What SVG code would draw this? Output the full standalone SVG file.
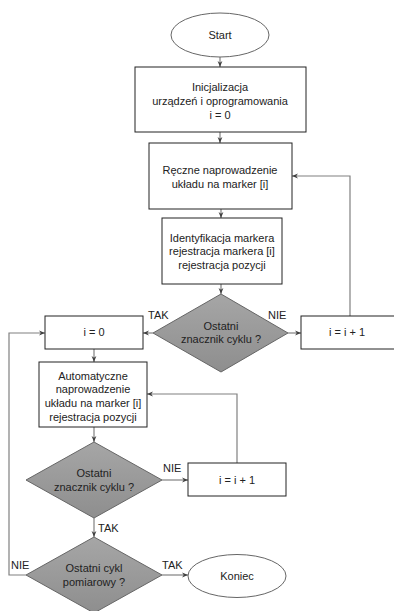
<svg xmlns="http://www.w3.org/2000/svg" width="394" height="611" viewBox="0 0 394 611">
<defs>
<marker id="arr" viewBox="0 0 10 10" refX="10" refY="5" markerWidth="6" markerHeight="6" orient="auto" markerUnits="userSpaceOnUse">
<path d="M0,1 L10,5 L0,9 L3,5 Z" fill="#404040"/>
</marker>
<linearGradient id="dg" x1="0" y1="0" x2="0" y2="1">
<stop offset="0" stop-color="#a6a6a6"/>
<stop offset="0.5" stop-color="#9a9a9a"/>
<stop offset="1" stop-color="#8e8e8e"/>
</linearGradient>
</defs>
<style>
text{font-family:"Liberation Sans",Arial,sans-serif;font-size:11px;fill:#222;text-anchor:middle}
.lbl{text-anchor:start}
.box{fill:#fff;stroke:#222;stroke-width:1}
.dia{fill:url(#dg);stroke:#666;stroke-width:1}
.ell{fill:#fff;stroke:#666;stroke-width:1}
.con{fill:none;stroke:#808080;stroke-width:1.2;marker-end:url(#arr)}
</style>
<rect width="394" height="611" fill="#fff"/>
<g id="connectors">
<path class="con" d="M220,57 V67"/>
<path class="con" d="M220,132 V143"/>
<path class="con" d="M221,209 V218"/>
<path class="con" d="M221,284 V294"/>
<path class="con" d="M153,333 H143"/>
<path class="con" d="M288,333 H301"/>
<path class="con" d="M350,316 V176 H292"/>
<path class="con" d="M94,349 V362"/>
<path class="con" d="M94,427 V442"/>
<path class="con" d="M162,480 H188"/>
<path class="con" d="M237,463 V394 H147"/>
<path class="con" d="M94,518 V537"/>
<path class="con" d="M162,575 H188"/>
<path class="con" d="M26,575 H9 V333 H45"/>
</g>
<g id="start"><ellipse class="ell" cx="220" cy="35" rx="49" ry="22"/><text x="220" y="39">Start</text></g>
<g id="init"><rect class="box" x="135" y="67" width="171" height="65"/><text x="220" y="91">Inicjalizacja</text><text x="220" y="105">urządzeń i oprogramowania</text><text x="220" y="119">i = 0</text></g>
<g id="manual"><rect class="box" x="149" y="143" width="143" height="66"/><text x="220" y="174">Ręczne naprowadzenie</text><text x="220" y="188">układu na marker [i]</text></g>
<g id="ident"><rect class="box" x="162" y="218" width="120" height="66"/><text x="222" y="242">Identyfikacja markera</text><text x="222" y="255">rejestracja markera [i]</text><text x="222" y="269">rejestracja pozycji</text></g>
<g id="dec1"><polygon class="dia" points="221,294 288,333 221,372 153,333"/><text x="221" y="330">Ostatni</text><text x="221" y="343">znacznik cyklu ?</text></g>
<g id="reset"><rect class="box" x="45" y="316" width="98" height="33"/><text x="94" y="336">i = 0</text></g>
<g id="inc1"><rect class="box" x="301" y="316" width="100" height="33"/><text x="347" y="336">i = i + 1</text></g>
<g id="auto"><rect class="box" x="39" y="362" width="108" height="65"/><text x="93" y="380">Automatyczne</text><text x="93" y="393">naprowadzenie</text><text x="93" y="407">układu na marker [i]</text><text x="93" y="421">rejestracja pozycji</text></g>
<g id="dec2"><polygon class="dia" points="94,442 162,480 94,518 26,480"/><text x="94" y="477">Ostatni</text><text x="94" y="491">znacznik cyklu ?</text></g>
<g id="inc2"><rect class="box" x="188" y="463" width="98" height="33"/><text x="237" y="484">i = i + 1</text></g>
<g id="dec3"><polygon class="dia" points="94,537 162,575 94,613 26,575"/><text x="94" y="572">Ostatni cykl</text><text x="94" y="586">pomiarowy ?</text></g>
<g id="end"><ellipse class="ell" cx="237" cy="576" rx="49" ry="21.5"/><text x="237" y="580">Koniec</text></g>
<g id="labels">
<text class="lbl" x="148" y="319">TAK</text>
<text class="lbl" x="268" y="319">NIE</text>
<text class="lbl" x="163" y="472">NIE</text>
<text class="lbl" x="98" y="532">TAK</text>
<text class="lbl" x="162" y="569">TAK</text>
<text class="lbl" x="11" y="569">NIE</text>
</g>
</svg>
